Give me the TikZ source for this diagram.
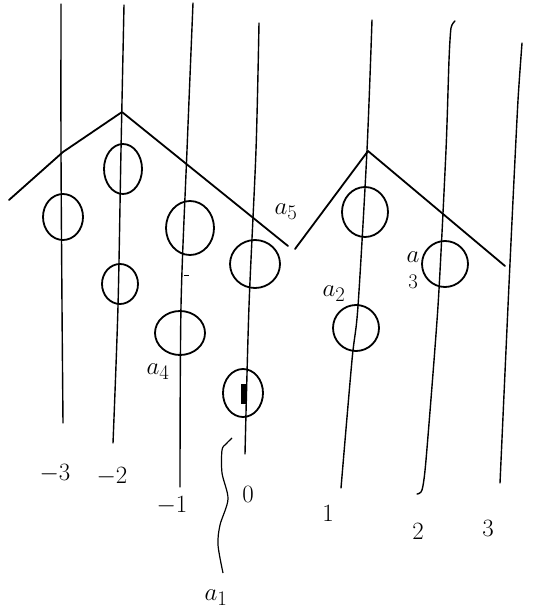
\documentclass[tikz,border=0pt]{standalone}
\begin{document}
\begin{tikzpicture}[x=1pt,y=-1pt,
  vline/.style={line width=1.4pt, line cap=round},
  ridge/.style={line width=1.8pt, line cap=round, line join=round},
  atom/.style={line width=1.8pt},
  numlab/.style={font=\fontsize{30}{34}\selectfont, inner sep=0pt},
  alab/.style={font=\fontsize{28}{32}\selectfont, inner sep=0pt}]
\useasboundingbox (0,0) rectangle (532,612);
% vertical lines
\draw[vline] plot[smooth] coordinates {(61,4) (61,150) (62,306) (63,423)};
\draw[vline] plot[smooth] coordinates {(124,5) (121,150) (118,306) (113,443)};
\draw[vline] plot[smooth] coordinates {(193,3) (187,150) (181,306) (180,487)};
\draw[vline] plot[smooth] coordinates {(259,23) (256,150) (249,306) (245,454)};
\draw[vline] plot[smooth] coordinates {(372,20) (367,150) (358,306) (352,360) (341,488)};
\draw[vline] plot[smooth, tension=0.4] coordinates {(455,21) (451,28) (449,60) (446,150) (438,306) (426,460) (422,490) (417,494)};
\draw[vline] plot[smooth, tension=0.4] coordinates {(522,43) (518,100) (513,200) (508,306) (500,483)};
% zigzag ridge
\draw[ridge] (9,200) -- (63,152) -- (122,112) -- (288,246);
\draw[ridge] (295,249) -- (368,151) -- (505,266);
% atoms
\draw[atom] (63,217) ellipse[x radius=20pt, y radius=23pt] coordinate (c1);
\draw[atom] (123,169) ellipse[x radius=19pt, y radius=25pt] coordinate (c2);
\draw[atom] (190,228) ellipse[x radius=24pt, y radius=27pt] coordinate (c3);
\draw[atom] (255,264) ellipse[x radius=25pt, y radius=24pt] coordinate (c4);
\draw[atom] (120,284) ellipse[x radius=18pt, y radius=20pt] coordinate (c5);
\draw[atom] (180,333) ellipse[x radius=25pt, y radius=22pt] coordinate (c6);
\draw[atom] (243,393) ellipse[x radius=20pt, y radius=24pt] coordinate (c7);
\fill (240.5,384) rectangle (245.5,404);
\draw[atom] (365,212) ellipse[x radius=23pt, y radius=25pt] coordinate (c8);
\draw[atom] (356,328) ellipse[x radius=23pt, y radius=23pt] coordinate (c9);
\draw[atom] (445,264) ellipse[x radius=23pt, y radius=23pt] coordinate (c10);
% small tick
\draw[line width=1pt] (184,275) -- (189,275);
% squiggle
\draw[line width=1.2pt] plot[smooth] coordinates {(232,438) (226,444) (222,450) (222,473) (228,499) (220,525) (218,545) (223,573)};
% labels
\node[alab] (l5) at (286,212) {$a_5$};
\node[alab] (l2) at (334,294) {$a_2$};
\node[alab, align=center] (l3) at (413,270) {$a$\\[-6pt]$\scriptstyle 3$};
\node[alab] (l4) at (158,372) {$a_4$};
\node[alab] (l1) at (216,598) {$a_1$};
\node[numlab] (n1) at (55,474) {$-3$};
\node[numlab] (n2) at (112,477) {$-2$};
\node[numlab] (n3) at (172,506) {$-1$};
\node[numlab] (n4) at (248,494) {$0$};
\node[numlab] (n5) at (328,513) {$1$};
\node[numlab] (n6) at (418,531) {$2$};
\node[numlab] (n7) at (488,528) {$3$};
\end{tikzpicture}
\end{document}
